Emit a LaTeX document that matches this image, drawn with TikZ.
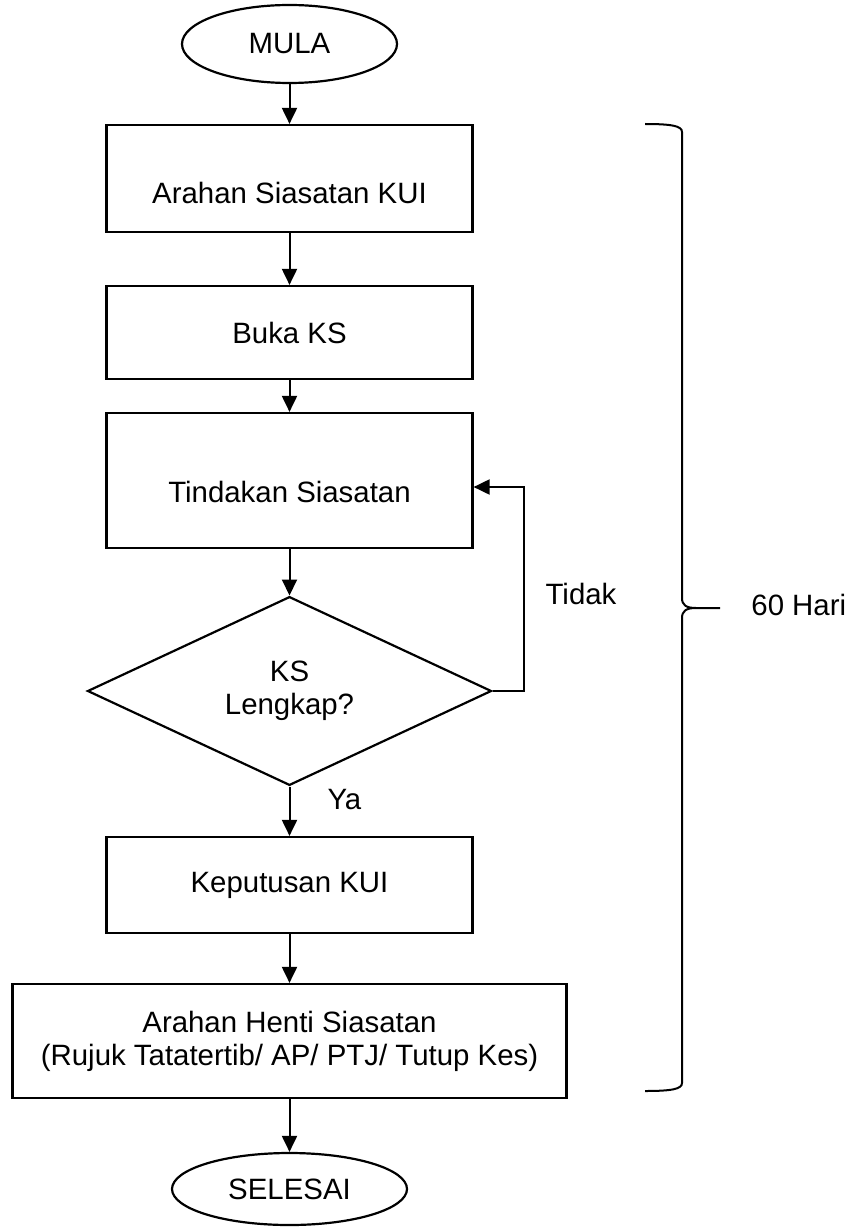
\documentclass[tikz,border=0pt]{standalone}
\usepackage{xcolor}
\usepackage{fontspec}
\setmainfont{Liberation Sans}
\usepackage{tikz}
\usetikzlibrary{shapes.geometric,arrows.meta,positioning}

\begin{document}
\begin{tikzpicture}[x=1pt,y=1pt,
  font=\fontsize{14.7}{16.5}\selectfont,
  terminal/.style={ellipse, draw, line width=1.1pt, inner sep=0pt},
  langkah/.style={rectangle, draw, line width=1.1pt, minimum width=183pt, inner sep=0pt, align=center},
  semak/.style={diamond, draw, line width=1.1pt, minimum width=202pt, minimum height=89pt, inner sep=0pt, align=center},
  arr/.style={line width=1pt, -{Triangle[length=8pt,width=7.5pt]}}]
\useasboundingbox (0,0) rectangle (426,-615);
\node[terminal,minimum width=107.5pt,minimum height=39pt] (mula) at (144.75,-22) {MULA};
\node[langkah,minimum height=53.5pt,text height=24.6pt,text depth=0pt,below of=mula,node distance=67.25pt] (arahan) {Arahan Siasatan KUI};
\node[langkah,minimum height=46.5pt,below of=arahan,node distance=77pt] (buka) {Buka KS};
\node[langkah,minimum height=67.5pt,text height=21.6pt,text depth=0pt,below of=buka,node distance=74pt] (tindakan) {Tindakan Siasatan};
\node[semak,below of=tindakan,node distance=105.25pt] (lengkap) {KS\\Lengkap?};
\node[langkah,minimum height=48pt,below of=lengkap,node distance=97pt] (keputusan) {Keputusan KUI};
\node[langkah,minimum width=277pt,minimum height=57pt,below of=keputusan,node distance=78pt] (henti) {Arahan Henti Siasatan\\(Rujuk Tatatertib/ AP/ PTJ/ Tutup Kes)};
\node[terminal,minimum width=117.5pt,minimum height=36pt,below of=henti,node distance=74pt] (selesai) {SELESAI};

\path[arr] (mula) edge (arahan)
           (arahan) edge (buka)
           (buka) edge (tindakan)
           (tindakan) edge (lengkap)
           (lengkap) edge node[pos=0.26,right=18.5pt,inner sep=0pt] {Ya} (keputusan)
           (keputusan) edge (henti)
           (henti) edge (selesai)
;
\draw[arr] (lengkap.east) -- ++(15.5,0) |- node[pos=0.25,right=10.5pt,yshift=-2.5pt,inner sep=0pt] {Tidak} ([yshift=-3.25pt]tindakan.east);

% 60 hari
\draw[line width=1pt] (322.5,-62) .. controls (336,-62) and (341,-63) .. (341,-66)
  -- (341,-299) .. controls (341,-302.5) and (343,-304) .. (348,-304) -- (360,-304)
  (348,-304) .. controls (343,-304) and (341,-305.5) .. (341,-309)
  -- (341,-541.5) .. controls (341,-544.5) and (336,-545.5) .. (322.5,-545.5);
\node[anchor=west,inner sep=0pt] (hari) at (375.5,-302.5) {60 Hari};
\end{tikzpicture}
\end{document}
